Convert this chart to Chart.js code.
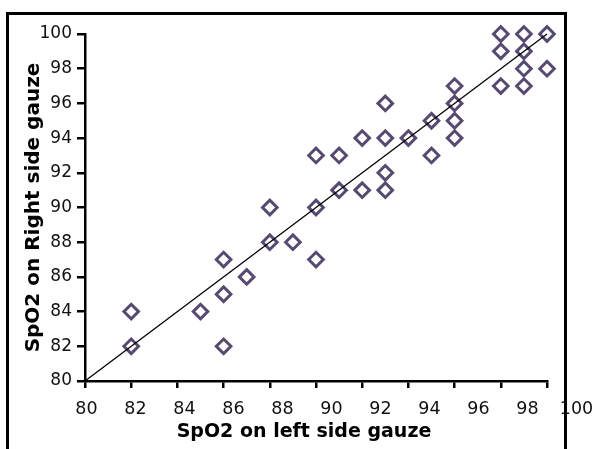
<!DOCTYPE html>
<html>
<head>
<meta charset="utf-8">
<script src="https://cdn.jsdelivr.net/npm/chart.js@4"></script>
<style>
  body { margin: 0; background: #fff; }
  #wrap { position: relative; width: 595px; height: 449px; }
  #frame {
    position: absolute; left: 6px; top: 12px; width: 555px; height: 450px;
    border: 3px solid #000; border-bottom: none; pointer-events: none;
  }
</style>
</head>
<body>
<div id="wrap">
  <canvas id="spo2Chart" width="595" height="449"></canvas>
  <div id="frame"></div>
</div>
<script>
// readings: left side gauze (x) vs right side gauze (y)
const leftSide  = [82, 82, 85, 86, 86, 86, 87, 88, 88, 89, 90, 90, 90, 91, 91, 92, 92, 93, 93, 93, 93, 94, 95, 95, 96, 96, 96, 96, 98, 98, 98, 99, 99, 99, 99, 100, 100];
const rightSide = [84, 82, 84, 87, 85, 82, 86, 90, 88, 88, 93, 90, 87, 93, 91, 94, 91, 96, 94, 92, 91, 94, 95, 93, 97, 96, 95, 94, 100, 99, 97, 100, 99, 98, 97, 100, 98];
// line of identity
const identityX = [80, 100];
const identityY = [80, 100];
const axisTicks = [80, 82, 84, 86, 88, 90, 92, 94, 96, 98, 100];
const xTitle = 'SpO2 on left side gauze';
const yTitle = 'SpO2 on Right side gauze';

const labelSpread = 1.0606; // x labels sit a bit wider apart than the tick marks

// x tick labels + title, drawn slightly stretched like the original export
const xLabelPlugin = {
  id: 'xLabels',
  afterDraw(chart) {
    const { ctx, chartArea, scales } = chart;
    const sx = scales.x;
    ctx.save();
    ctx.font = '17.5px "DejaVu Sans"';
    ctx.fillStyle = '#111';
    ctx.textAlign = 'center';
    ctx.textBaseline = 'middle';
    axisTicks.forEach(v => {
      const px = sx.getPixelForValue(v);
      ctx.fillText(String(v), chartArea.left + 1.5 + (px - chartArea.left) * labelSpread, chartArea.bottom + 28.5);
    });
    ctx.font = 'bold 19px "DejaVu Sans"';
    ctx.fillStyle = '#000';
    ctx.fillText(xTitle, chartArea.left + 219, chartArea.bottom + 51);
    ctx.restore();
  }
};

const ctx = document.getElementById('spo2Chart');
const spo2Chart = new Chart(ctx, {
  type: 'scatter',
  data: {
    datasets: [
      {
        type: 'line',
        label: 'y = x',
        data: identityX.map((x, i) => ({ x: x, y: identityY[i] })),
        borderColor: '#000',
        borderWidth: 1.3,
        pointRadius: 0,
        fill: false,
        clip: false
      },
      {
        label: 'SpO2',
        data: leftSide.map((x, i) => ({ x: x, y: rightSide[i] })),
        pointStyle: 'rectRot',
        pointRadius: 7.3,
        pointBorderWidth: 3,
        pointBorderColor: '#564a70',
        pointBackgroundColor: '#fff',
        clip: false
      }
    ]
  },
  options: {
    responsive: false,
    animation: false,
    devicePixelRatio: 1,
    layout: { padding: { left: 0, top: 34, right: 48, bottom: 0 } },
    plugins: {
      legend: { display: false },
      tooltip: { enabled: false }
    },
    scales: {
      x: {
        type: 'linear',
        min: 80,
        max: 100,
        afterBuildTicks: scale => { scale.ticks = axisTicks.map(v => ({ value: v })); },
        afterFit: scale => { scale.height = 68; },
        ticks: { display: false },
        grid: { drawOnChartArea: false, tickLength: 7, color: '#000', lineWidth: 2.5 },
        border: { color: '#000', width: 2.5 }
      },
      y: {
        type: 'linear',
        min: 80,
        max: 100,
        afterBuildTicks: scale => { scale.ticks = axisTicks.map(v => ({ value: v })); },
        afterFit: scale => { scale.width = 85; },
        ticks: {
          color: '#111',
          padding: 5,
          font: { family: '"DejaVu Sans"', size: 17 }
        },
        grid: { drawOnChartArea: false, tickLength: 8, color: '#000', lineWidth: 2.5 },
        border: { color: '#000', width: 2.5 },
        title: {
          display: true,
          text: yTitle,
          color: '#000',
          padding: { top: 22, bottom: 0 },
          font: { family: '"DejaVu Sans"', size: 20, weight: 'bold', lineHeight: 1.2 }
        }
      }
    }
  },
  plugins: [xLabelPlugin]
});
</script>
</body>
</html>
